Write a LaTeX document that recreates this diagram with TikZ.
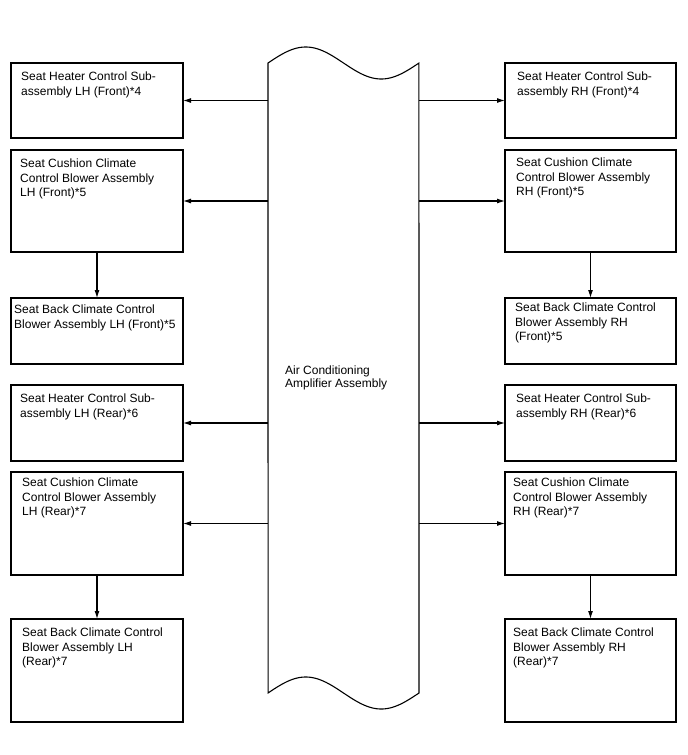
\documentclass[tikz,border=0pt]{standalone}
\usepackage{fontspec}
\setmainfont{Liberation Sans}
\usetikzlibrary{arrows.meta}
\newcommand\tstrut{\rule{0pt}{8.6pt}}
\begin{document}
\begin{tikzpicture}[x=1pt,y=-1pt,
  box/.style={draw, line width=1.1pt, anchor=north west, inner sep=0pt, outer sep=0pt},
  txt/.style={anchor=north west, inner sep=0pt, align=left, font=\fontsize{12}{14.3}\selectfont},
  arr/.style={line width=1.1pt, -{Latex[length=8pt,width=5pt]}},
  wave/.style={line width=1.1pt, line join=miter}]
\useasboundingbox (0,0) rectangle (688,755);

% central amplifier shape
\node[anchor=north west, inner sep=0pt, outer sep=0pt, minimum width=151pt, minimum height=630pt] (amp) at (268,63) {};
\draw[wave] plot[domain=0:1,samples=90,smooth] ({268+151*\x},{63-16*sin(360*\x)})
  -- plot[domain=1:0,samples=90,smooth] ({268+151*\x},{693-16*sin(360*\x)}) -- cycle;
\node[txt, font=\fontsize{12}{12.5}\selectfont] (amptext) at (285,366) {\tstrut Air Conditioning\\Amplifier Assembly};

% left boxes
\node[box, minimum width=172pt, minimum height=75pt]  (l1) at (11,63) {};
\node[box, minimum width=172pt, minimum height=102pt] (l2) at (11,150) {};
\node[box, minimum width=172pt, minimum height=66pt]  (l3) at (11,298) {};
\node[box, minimum width=172pt, minimum height=76pt]  (l4) at (11,385) {};
\node[box, minimum width=172pt, minimum height=103pt] (l5) at (11,472) {};
\node[box, minimum width=172pt, minimum height=103pt] (l6) at (11,619) {};

% right boxes
\node[box, minimum width=171pt, minimum height=75pt]  (r1) at (505,63) {};
\node[box, minimum width=171pt, minimum height=102pt] (r2) at (505,150) {};
\node[box, minimum width=171pt, minimum height=66pt]  (r3) at (505,298) {};
\node[box, minimum width=171pt, minimum height=76pt]  (r4) at (505,385) {};
\node[box, minimum width=171pt, minimum height=103pt] (r5) at (505,472) {};
\node[box, minimum width=171pt, minimum height=103pt] (r6) at (505,619) {};

% left texts
\node[txt] (tl1) at (21,72)  {\tstrut Seat Heater Control Sub-\\assembly LH (Front)*4};
\node[txt] (tl2) at (20,159) {\tstrut Seat Cushion Climate\\Control Blower Assembly\\LH (Front)*5};
\node[txt] (tl3) at (14,305) {\tstrut Seat Back Climate Control\\Blower Assembly LH (Front)*5};
\node[txt] (tl4) at (20,394) {\tstrut Seat Heater Control Sub-\\assembly LH (Rear)*6};
\node[txt] (tl5) at (22,478) {\tstrut Seat Cushion Climate\\Control Blower Assembly\\LH (Rear)*7};
\node[txt] (tl6) at (22,628) {\tstrut Seat Back Climate Control\\Blower Assembly LH\\(Rear)*7};

% right texts
\node[txt] (tr1) at (517,72)  {\tstrut Seat Heater Control Sub-\\assembly RH (Front)*4};
\node[txt] (tr2) at (516,158) {\tstrut Seat Cushion Climate\\Control Blower Assembly\\RH (Front)*5};
\node[txt] (tr3) at (515,303) {\tstrut Seat Back Climate Control\\Blower Assembly RH\\(Front)*5};
\node[txt] (tr4) at (516,394) {\tstrut Seat Heater Control Sub-\\assembly RH (Rear)*6};
\node[txt] (tr5) at (513,478) {\tstrut Seat Cushion Climate\\Control Blower Assembly\\RH (Rear)*7};
\node[txt] (tr6) at (513,628) {\tstrut Seat Back Climate Control\\Blower Assembly RH\\(Rear)*7};

% horizontal arrows
\foreach \b in {l1,l2,l4,l5} \draw[arr] (amp.west |- \b.east) -- (\b.east);
\foreach \b in {r1,r2,r4,r5} \draw[arr] (amp.east |- \b.west) -- (\b.west);

% vertical arrows
\draw[arr] (l2.south) -- (l3.north);
\draw[arr] (l5.south) -- (l6.north);
\draw[arr] (r2.south) -- (r3.north);
\draw[arr] (r5.south) -- (r6.north);
\end{tikzpicture}
\end{document}
